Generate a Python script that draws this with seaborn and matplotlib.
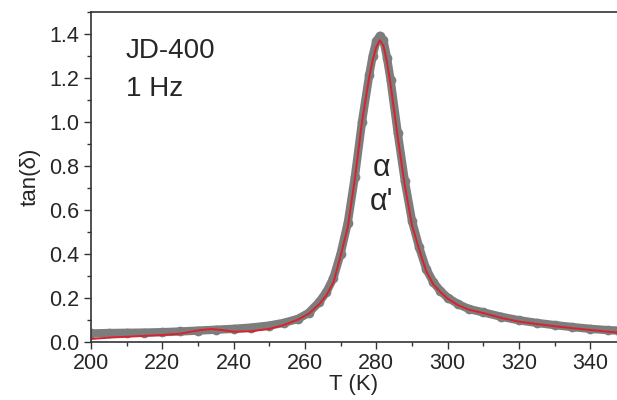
import matplotlib
matplotlib.use("Agg")
import matplotlib.pyplot as plt
import seaborn as sns
import pandas as pd
from matplotlib.ticker import MultipleLocator

# measured tan(delta), grey symbols
T_meas = [200, 205, 210, 215, 220, 225, 230, 235, 240, 245, 250, 254, 258, 261,
          264, 266, 268, 270, 272, 274, 276, 278, 279, 280, 281, 282, 283, 284,
          286, 288, 290, 292, 294, 296, 298, 300, 303, 306, 310, 315, 320, 325,
          330, 335, 340, 345, 348]
tan_meas = [0.037, 0.039, 0.040, 0.041, 0.043, 0.046, 0.050, 0.054, 0.058, 0.064,
            0.073, 0.085, 0.103, 0.130, 0.180, 0.225, 0.290, 0.400, 0.540, 0.750,
            1.000, 1.210, 1.300, 1.365, 1.390, 1.370, 1.290, 1.190, 0.950, 0.730,
            0.550, 0.430, 0.330, 0.270, 0.230, 0.200, 0.170, 0.148, 0.133, 0.113,
            0.097, 0.085, 0.075, 0.066, 0.058, 0.052, 0.050]

# fit, red line
T_fit = [200, 205, 210, 215, 220, 225, 228, 231, 234, 237, 240, 245, 250, 254,
         258, 261, 264, 266, 268, 270, 272, 274, 276, 278, 279, 280, 281, 282,
         283, 284, 286, 288, 290, 292, 294, 296, 298, 300, 303, 306, 310, 315,
         320, 325, 330, 335, 340, 345, 348]
tan_fit = [0.012, 0.018, 0.022, 0.026, 0.030, 0.036, 0.045, 0.053, 0.057, 0.052,
           0.045, 0.047, 0.058, 0.075, 0.100, 0.126, 0.170, 0.210, 0.270, 0.390,
           0.520, 0.740, 1.000, 1.200, 1.280, 1.340, 1.370, 1.345, 1.270, 1.170,
           0.930, 0.710, 0.530, 0.420, 0.320, 0.260, 0.225, 0.195, 0.165, 0.145,
           0.130, 0.108, 0.091, 0.080, 0.070, 0.061, 0.053, 0.045, 0.041]

meas = pd.DataFrame({"T": T_meas, "tan": tan_meas})
fit = pd.DataFrame({"T": T_fit, "tan": tan_fit})

sns.set_style("ticks")
plt.rcParams['font.family'] = ['Liberation Sans', 'DejaVu Sans']

fig = plt.figure(figsize=(6.17, 4.0), dpi=100)
ax = fig.add_axes([0.1475, 0.146, 0.8525, 0.825])

sns.lineplot(data=meas, x="T", y="tan", ax=ax, color="#7d7d7d", linewidth=6,
             marker="o", markersize=7, markeredgewidth=0, solid_capstyle="round")
sns.lineplot(data=fit, x="T", y="tan", ax=ax, color="#d8232a", linewidth=1.4)

ax.set_xlim(200, 347.5)
ax.set_ylim(0, 1.5)
ax.xaxis.set_major_locator(MultipleLocator(20))
ax.xaxis.set_minor_locator(MultipleLocator(10))
ax.yaxis.set_major_locator(MultipleLocator(0.2))
ax.yaxis.set_minor_locator(MultipleLocator(0.1))
ax.yaxis.set_major_formatter(plt.FuncFormatter(lambda v, p: f"{v:.1f}"))
ax.tick_params(which="major", length=5, width=1, labelsize=15.5, color="#333333")
ax.tick_params(which="minor", length=3, width=1, color="#333333")
ax.spines["right"].set_visible(False)
for s in ["left", "bottom", "top"]:
    ax.spines[s].set_linewidth(1.2)
    ax.spines[s].set_color("#333333")

ax.set_xlabel("T (K)", fontsize=16, labelpad=0)
ax.set_ylabel("tan(δ)", fontsize=16, labelpad=6)

ax.text(0.066, 0.86, "JD-400", transform=ax.transAxes, fontsize=20, ha="left")
ax.text(0.066, 0.745, "1 Hz", transform=ax.transAxes, fontsize=20, ha="left")
ax.text(281.6, 0.79, "α", fontsize=22, ha="center", va="center")
ax.text(281.6, 0.635, "α'", fontsize=22, ha="center", va="center")

fig.savefig("out.png", dpi=100)
